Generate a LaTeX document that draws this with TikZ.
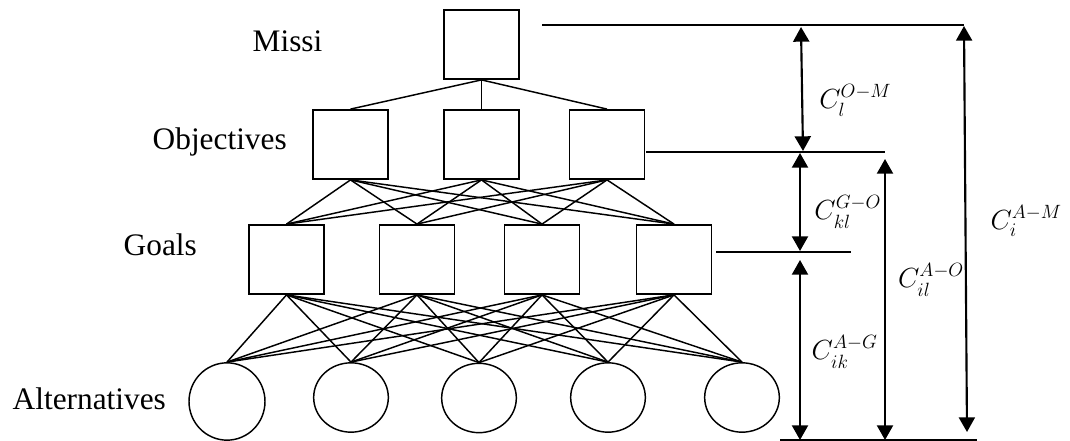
\documentclass[tikz,border=0pt]{standalone}
\usepackage{amsmath}
\usepackage{fontspec}
\setmainfont{Liberation Serif}
\usetikzlibrary{shapes.geometric,arrows.meta}

\begin{document}
\begin{tikzpicture}[x=0.75pt,y=-0.75pt,line width=1.1pt,
   sqbox/.style={draw,rectangle,minimum width=56pt,minimum height=52pt,inner sep=0pt},
   altnode/.style={draw,ellipse,minimum width=56pt,minimum height=52pt,inner sep=0pt},
   tag/.style={anchor=base west,inner sep=0pt,font=\fontsize{23.5}{27}\selectfont},
   dim/.style={line width=1.6pt,{Triangle[width=12pt,length=11pt]}-{Triangle[width=12pt,length=11pt]}},
   cost/.style={inner sep=0pt,anchor=west,font=\fontsize{22}{26}\selectfont}]
\useasboundingbox (0,0) rectangle (1070,441);

% levels
\node[sqbox] (m) at (481.5,44.5) {};
\node[sqbox] (o1) at (350.5,144.5) {};
\node[sqbox] (o2) at (481.5,144.5) {};
\node[sqbox] (o3) at (607,144.5) {};
\node[sqbox] (g1) at (286.5,259.5) {};
\node[sqbox] (g2) at (417,259.5) {};
\node[sqbox] (g3) at (542,259.5) {};
\node[sqbox] (g4) at (674,259.5) {};
\node[altnode,minimum width=57pt,minimum height=58pt] (a1) at (227,401.5) {};
\node[altnode] (a2) at (351,397.5) {};
\node[altnode] (a3) at (479,398) {};
\node[altnode] (a4) at (608,397.5) {};
\node[altnode] (a5) at (742,397.5) {};

\node[tag] (tm) at (252,52) {Missi};
\node[tag] (to) at (152,150) {Objectives};
\node[tag] (tg) at (123,256) {Goals};
\node[tag] (ta) at (12,409) {Alternatives};

% links
\foreach \i in {1,2,3}
  \draw (m.south) -- (o\i.north);
\foreach \i in {1,2,3}
  \foreach \j in {1,...,4}
    \draw (o\i.south) -- (g\j.north);
\foreach \j in {1,...,4}
  \foreach \k in {1,...,5}
    \draw (g\j.south) -- (a\k.north);

% reference lines
\coordinate (mL) at (542,25);  \coordinate (mR) at (964,25);
\coordinate (oL) at (646,152); \coordinate (oR) at (885,152);
\coordinate (gL) at (716,252); \coordinate (gR) at (851,252);
\coordinate (aL) at (780,440); \coordinate (aR) at (977,440);
\draw (mL) -- (mR);
\draw (oL) -- (oR);
\draw (gL) -- (gR);
\draw (aL) -- (aR);

% cost arrows
\coordinate (om1) at (801,27);  \coordinate (om2) at (803,151);
\coordinate (go1) at (800,153); \coordinate (go2) at (800,251);
\coordinate (ag1) at (800,260); \coordinate (ag2) at (800,440);
\coordinate (ao1) at (885,159); \coordinate (ao2) at (885,440);
\coordinate (am1) at (964,26);  \coordinate (am2) at (967,432);
\draw[dim] (om1) -- node[cost,pos=0.59,right=12pt] {$C_l^{O-M}$} (om2);
\draw[dim] (go1) -- node[cost,pos=0.6,right=10pt] {$C_{kl}^{G-O}$} (go2);
\draw[dim] (ag1) -- node[cost,pos=0.51,right=8pt] {$C_{ik}^{A-G}$} (ag2);
\draw[dim] (ao1) -- node[cost,pos=0.43,right=9pt] {$C_{il}^{A-O}$} (ao2);
\draw[dim] (am1) -- node[cost,pos=0.48,right=18pt] {$C_i^{A-M}$} (am2);
\end{tikzpicture}
\end{document}
